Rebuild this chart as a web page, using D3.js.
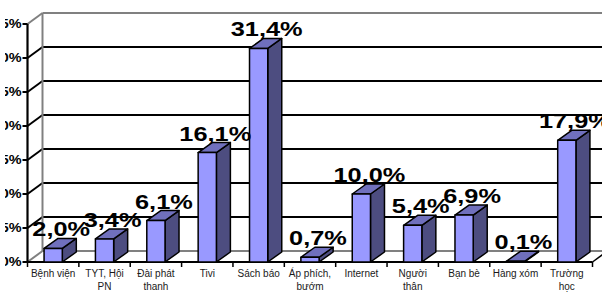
<!DOCTYPE html>
<html>
<head>
<meta charset="utf-8">
<script src="https://cdn.jsdelivr.net/npm/d3@7"></script>
<style>
  html, body { margin: 0; padding: 0; background: #fff; }
  svg { display: block; }
</style>
</head>
<body>
<svg id="chart" width="602" height="292"></svg>
<script>
// ---- data ----
const categories = ["Bệnh viện", "TYT, Hội PN", "Đài phát thanh", "Tivi", "Sách báo", "Áp phích, bướm", "Internet", "Người thân", "Bạn bè", "Hàng xóm", "Trường học"];
const categoryLines = [["Bệnh viện"], ["TYT, Hội", "PN"], ["Đài phát", "thanh"], ["Tivi"], ["Sách báo"], ["Áp phích,", "bướm"], ["Internet"], ["Người", "thân"], ["Bạn bè"], ["Hàng xóm"], ["Trường", "học"]];
const values = [2.0, 3.4, 6.1, 16.1, 31.4, 0.7, 10.0, 5.4, 6.9, 0.1, 17.9];
const yTicks = [0, 5, 10, 15, 20, 25, 30, 35];
const yTickLabels = ["0%", "5%", "10%", "15%", "20%", "25%", "30%", "35%"];

// ---- layout ----
const svg = d3.select("#chart");
const x0 = 27.5, x1 = 592.5, yBase = 262, yTop = 24;
const wallDx = 15, wallDy = -11;
const barDx = 14, barDy = -10;

const x = d3.scaleBand().domain(categories).range([x0, x1]).paddingInner(0).paddingOuter(0);
const y = d3.scaleLinear().domain([0, 35]).range([yBase, yTop]);
const bw = x.bandwidth();
const barW = bw * 0.355;

svg.append("defs").append("clipPath").attr("id", "ylabClip")
  .append("rect").attr("x", 5).attr("y", 0).attr("width", 30).attr("height", 292);

const g = svg.append("g");

// back wall gridlines
yTicks.forEach((t, i) => {
  const yy = y(t);
  const isTop = i === yTicks.length - 1;
  const isBottom = i === 0;
  const col = (isTop || isBottom) ? "#808080" : "#000";
  g.append("line").attr("x1", x0).attr("y1", yy).attr("x2", x0 + wallDx).attr("y2", yy + wallDy)
    .attr("stroke", col).attr("stroke-width", 2);
  g.append("line").attr("x1", x0 + wallDx).attr("y1", yy + wallDy).attr("x2", x1 + wallDx + 20).attr("y2", yy + wallDy)
    .attr("stroke", col).attr("stroke-width", 2);
});
g.append("line").attr("x1", x0 + wallDx).attr("y1", y(35) + wallDy).attr("x2", x0 + wallDx).attr("y2", y(0) + wallDy)
  .attr("stroke", "#808080").attr("stroke-width", 2);
g.append("line").attr("x1", x1).attr("y1", yBase).attr("x2", x1 + wallDx).attr("y2", yBase + wallDy)
  .attr("stroke", "#000").attr("stroke-width", 1.5);

g.append("line").attr("x1", x0).attr("y1", y(35)).attr("x2", x0).attr("y2", yBase)
  .attr("stroke", "#000").attr("stroke-width", 2.2);
g.append("line").attr("x1", x0).attr("y1", yBase).attr("x2", x1).attr("y2", yBase)
  .attr("stroke", "#000").attr("stroke-width", 2);

const ylab = g.append("g").attr("clip-path", "url(#ylabClip)");
yTicks.forEach((t, i) => {
  const yy = y(t);
  g.append("line").attr("x1", x0 - 5).attr("y1", yy).attr("x2", x0).attr("y2", yy)
    .attr("stroke", "#000").attr("stroke-width", 2);
  ylab.append("text").attr("transform", `translate(${x0 - 6},${yy}) scale(1.2,1)`).attr("dy", "0.36em")
    .attr("text-anchor", "end").attr("font-family", "Liberation Sans, Arial, sans-serif")
    .attr("font-size", 12).attr("font-weight", "bold").attr("fill", "#000")
    .text(yTickLabels[i]);
});

d3.range(categories.length + 1).forEach(i => {
  const xx = x0 + i * bw;
  g.append("line").attr("x1", xx).attr("y1", yBase).attr("x2", xx).attr("y2", yBase + 5)
    .attr("stroke", "#000").attr("stroke-width", 1.5);
});

categories.forEach((c, i) => {
  const cx = x(c) + bw / 2;
  const t = g.append("text").attr("x", cx).attr("y", 277)
    .attr("text-anchor", "middle").attr("font-family", "Liberation Sans, Arial, sans-serif")
    .attr("font-size", 10).attr("fill", "#1a1a1a");
  categoryLines[i].forEach((ln, j) => {
    t.append("tspan").attr("x", cx).attr("y", 277 + j * 12.5).text(ln);
  });
});

// bars
const frontCol = "#9999ff", topCol = "#7070bd", sideCol = "#4d4d80";
categories.forEach((c, i) => {
  const v = values[i];
  const bx = x(c) + (bw - barW) / 2;
  const by = y(v);
  const bg = g.append("g").attr("stroke", "#000").attr("stroke-width", 1.5).attr("stroke-linejoin", "round");
  bg.append("path").attr("fill", sideCol)
    .attr("d", `M${bx + barW},${yBase} L${bx + barW + barDx},${yBase + barDy} L${bx + barW + barDx},${by + barDy} L${bx + barW},${by} Z`);
  bg.append("path").attr("fill", topCol)
    .attr("d", `M${bx},${by} L${bx + barDx},${by + barDy} L${bx + barW + barDx},${by + barDy} L${bx + barW},${by} Z`);
  bg.append("rect").attr("fill", frontCol).attr("x", bx).attr("y", by).attr("width", barW).attr("height", yBase - by);
});

// value labels
const fmt = v => d3.format(".1f")(v).replace(".", ",") + "%";
categories.forEach((c, i) => {
  const v = values[i];
  const cx = x(c) + bw / 2 + barDx / 2 + 1;
  const by = y(v) - 12;
  g.append("text").attr("transform", `translate(${cx},${by}) scale(1.3,1)`)
    .attr("text-anchor", "middle").attr("font-family", "Liberation Sans, Arial, sans-serif")
    .attr("font-size", 19.5).attr("font-weight", "bold").attr("fill", "#000")
    .text(fmt(v));
});
</script>
</body>
</html>
